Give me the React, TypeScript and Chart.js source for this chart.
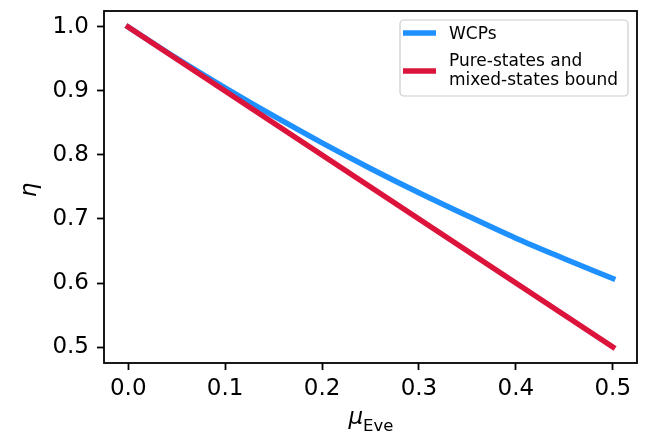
import React, { useEffect, useRef } from "react";
import { Chart, registerables } from "chart.js";

Chart.register(...registerables);

const muValues = [0, 0.05, 0.1, 0.15, 0.2, 0.25, 0.3, 0.35, 0.4, 0.45, 0.5];
const wcpsEta = [1.0, 0.951, 0.905, 0.861, 0.819, 0.779, 0.741, 0.705, 0.67, 0.638, 0.607];
const boundMu = [0, 0.5];
const boundEta = [1.0, 0.5];
const xTicks = [0, 0.1, 0.2, 0.3, 0.4, 0.5];
const yTicks = [0.5, 0.6, 0.7, 0.8, 0.9, 1.0];
const seriesLabels = ["WCPs", "Pure-states and\nmixed-states bound"];
const BLUE = "#1E90FF";
const RED = "#DC143C";
const FONT = "'DejaVu Sans', sans-serif";

const decorPlugin = {
  id: "decor",
  afterDraw(chart: any) {
    const ctx = chart.ctx;
    const { left, right, top, bottom } = chart.chartArea;
    ctx.save();
    // frame
    ctx.strokeStyle = "#000";
    ctx.lineWidth = 1.8;
    ctx.strokeRect(left, top, right - left, bottom - top);

    // y title
    ctx.save();
    ctx.translate(30, 190);
    ctx.rotate(-Math.PI / 2);
    ctx.font = "italic 23px " + FONT;
    ctx.fillStyle = "#000";
    ctx.textAlign = "center";
    ctx.textBaseline = "middle";
    ctx.fillText("η", 0, 0);
    ctx.restore();

    // x title
    ctx.fillStyle = "#000";
    ctx.textBaseline = "alphabetic";
    ctx.textAlign = "left";
    ctx.font = "italic 23px " + FONT;
    const w1 = ctx.measureText("μ").width;
    ctx.font = "16px " + FONT;
    const w2 = ctx.measureText("Eve").width;
    const x0 = (left + right) / 2 - (w1 + w2) / 2;
    ctx.font = "italic 23px " + FONT;
    ctx.fillText("μ", x0, 424);
    ctx.font = "16.5px " + FONT;
    ctx.fillText("Eve", x0 + w1, 431);

    // legend
    const bx = 400, by = 20, bw = 228, bh = 76, r = 4;
    ctx.beginPath();
    ctx.moveTo(bx + r, by);
    ctx.arcTo(bx + bw, by, bx + bw, by + bh, r);
    ctx.arcTo(bx + bw, by + bh, bx, by + bh, r);
    ctx.arcTo(bx, by + bh, bx, by, r);
    ctx.arcTo(bx, by, bx + bw, by, r);
    ctx.closePath();
    ctx.fillStyle = "rgba(255,255,255,0.8)";
    ctx.fill();
    ctx.strokeStyle = "#cccccc";
    ctx.lineWidth = 1.2;
    ctx.stroke();

    ctx.lineCap = "butt";
    ctx.lineWidth = 5.5;
    ctx.strokeStyle = BLUE;
    ctx.beginPath();
    ctx.moveTo(403, 33);
    ctx.lineTo(436, 33);
    ctx.stroke();
    ctx.strokeStyle = RED;
    ctx.beginPath();
    ctx.moveTo(403, 71);
    ctx.lineTo(436, 71);
    ctx.stroke();

    ctx.fillStyle = "#000";
    ctx.font = "17px " + FONT;
    ctx.textAlign = "left";
    ctx.fillText(seriesLabels[0], 449, 39);
    const lines = seriesLabels[1].split("\n");
    ctx.fillText(lines[0], 449, 66);
    ctx.fillText(lines[1], 449, 85);
    ctx.restore();
  },
};

const zeroPad = (s: any) => {
  s.paddingTop = 0;
  s.paddingBottom = 0;
  s.paddingLeft = 0;
  s.paddingRight = 0;
};

export default function App() {
  const ref = useRef<HTMLCanvasElement>(null);
  useEffect(() => {
    const chart = new Chart(ref.current!, {
      type: "line",
      data: {
        datasets: [
          {
            label: seriesLabels[1],
            data: boundMu.map((x, i) => ({ x, y: boundEta[i] })),
            borderColor: RED,
            backgroundColor: RED,
            borderWidth: 5.5,
            pointRadius: 0,
            borderCapStyle: "square",
            order: 0,
          },
          {
            label: seriesLabels[0],
            data: muValues.map((x, i) => ({ x, y: wcpsEta[i] })),
            borderColor: BLUE,
            backgroundColor: BLUE,
            borderWidth: 5.5,
            pointRadius: 0,
            borderCapStyle: "square",
            cubicInterpolationMode: "monotone",
            order: 1,
          },
        ],
      },
      options: {
        animation: false,
        responsive: false,
        maintainAspectRatio: false,
        layout: { autoPadding: false, padding: { left: 0, top: 11, right: 12, bottom: 0 } },
        plugins: { legend: { display: false }, tooltip: { enabled: false } },
        scales: {
          x: {
            type: "linear",
            min: -0.025,
            max: 0.525,
            afterBuildTicks: (s: any) => {
              s.ticks = xTicks.map((v) => ({ value: v }));
            },
            afterFit: (s: any) => {
              s.height = 72;
              zeroPad(s);
            },
            border: { display: false },
            grid: {
              display: true,
              drawOnChartArea: false,
              drawTicks: true,
              tickLength: 7,
              tickWidth: 1.8,
              tickColor: "#000",
            },
            ticks: {
              color: "#000",
              font: { family: FONT, size: 23 },
              padding: 5,
              maxRotation: 0,
              callback: (v: any) => Number(v).toFixed(1),
            },
          },
          y: {
            type: "linear",
            min: 0.475,
            max: 1.025,
            afterBuildTicks: (s: any) => {
              s.ticks = yTicks.map((v) => ({ value: v }));
            },
            afterFit: (s: any) => {
              s.width = 104;
              zeroPad(s);
            },
            border: { display: false },
            grid: {
              display: true,
              drawOnChartArea: false,
              drawTicks: true,
              tickLength: 7,
              tickWidth: 1.8,
              tickColor: "#000",
            },
            ticks: {
              color: "#000",
              font: { family: FONT, size: 23 },
              padding: 8,
              callback: (v: any) => Number(v).toFixed(1),
            },
          },
        },
      },
      plugins: [decorPlugin],
    } as any);
    return () => chart.destroy();
  }, []);
  return (
    <div style={{ position: "absolute", left: 0, top: 0, width: 649, height: 435, background: "#fff" }}>
      <canvas ref={ref} width={649} height={435} style={{ width: 649, height: 435 }} />
    </div>
  );
}
